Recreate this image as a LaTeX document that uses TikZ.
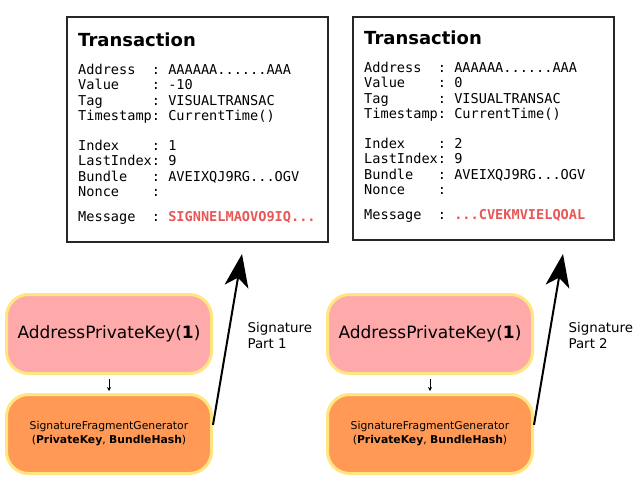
\documentclass[tikz,border=0pt]{standalone}
\usepackage{fontspec}
\setmainfont{DejaVu Sans}
\setmonofont{DejaVu Sans Mono}
\usetikzlibrary{arrows.meta,positioning}
\definecolor{keypink}{HTML}{FFAAAA}
\definecolor{genorange}{HTML}{FF9955}
\definecolor{rimyellow}{HTML}{FFE680}
\definecolor{msgred}{HTML}{E95656}

\tikzset{
  txline/.style={anchor=base west, inner sep=0pt, font=\ttfamily\fontsize{13.6}{15.5}\selectfont},
  txtitle/.style={anchor=base west, inner sep=0pt, font=\bfseries\fontsize{18}{20}\selectfont},
  keybox/.style={draw=rimyellow, line width=3pt, fill=keypink, rounded corners=22pt,
    minimum width=205pt, minimum height=79pt, font=\fontsize{17}{19}\selectfont},
  genbox/.style={keybox, fill=genorange, align=center, font=\fontsize{10.8}{14}\selectfont},
  sigarrow/.style={-{Stealth[length=33pt,width=24pt,inset=9pt]}, line width=2pt},
  steparrow/.style={-{Stealth[length=4pt,width=4pt]}, line width=0.6pt},
}

\begin{document}
\begin{tikzpicture}[x=1pt, y=-1pt]
\useasboundingbox (0,0) rectangle (643,477);
%\draw [help lines, step=10pt](0,0) grid (643,477);

% transaction 1
\draw [line width=1.6pt, black!85] (67,17) rectangle (328,242);
\node [txtitle] (titleL) at (78,46.5) {Transaction};
\foreach \t/\y [count=\n] in {
  {Address~~:~AAAAAA......AAA}/74,
  {Value~~~~:~-10}/89.5,
  {Tag~~~~~~:~VISUALTRANSAC}/105,
  {Timestamp:~CurrentTime()}/120.5,
  {Index~~~~:~1}/150,
  {LastIndex:~9}/165.5,
  {Bundle~~~:~AVEIXQJ9RG...OGV}/181,
  {Nonce~~~~:}/196.5,
  {Message~~:~\textcolor{msgred}{\bfseries SIGNNELMAOVO9IQ...}}/221.5}
  \node [txline] (fieldL\n) at (78,\y) {\t};

% transaction 2
\draw [line width=1.6pt, black!85] (353,17) rectangle (614,240);
\node [txtitle] (titleR) at (364,44.5) {Transaction};
\foreach \t/\y [count=\n] in {
  {Address~~:~AAAAAA......AAA}/72,
  {Value~~~~:~0}/87.5,
  {Tag~~~~~~:~VISUALTRANSAC}/103,
  {Timestamp:~CurrentTime()}/118.5,
  {Index~~~~:~2}/148,
  {LastIndex:~9}/163.5,
  {Bundle~~~:~AVEIXQJ9RG...OGV}/179,
  {Nonce~~~~:}/194.5,
  {Message~~:~\textcolor{msgred}{\bfseries ...CVEKMVIELQOAL}}/219.5}
  \node [txline] (fieldR\n) at (364,\y) {\t};

% key and generator boxes
\node [keybox] (keyL) at (109,334) {AddressPrivateKey(\textbf{1})};
\node [genbox] (genL) at (109,434) {SignatureFragmentGenerator\\(\textbf{PrivateKey}, \textbf{BundleHash})};
\node [keybox] (keyR) at (430,334) {AddressPrivateKey(\textbf{1})};
\node [genbox] (genR) at (430,434) {SignatureFragmentGenerator\\(\textbf{PrivateKey}, \textbf{BundleHash})};

\draw [steparrow, shorten <=4pt, shorten >=2pt] (keyL) -- (genL);
\draw [steparrow, shorten <=4pt, shorten >=2pt] (keyR) -- (genR);

% signature parts
\coordinate (tipL) at (242,254);
\coordinate (tipR) at (563,254);
\draw [sigarrow] (genL.5) -- (tipL);
\draw [sigarrow] (genR.5) -- (tipR);
\node [anchor=west, align=left, font=\fontsize{13.4}{16}\selectfont] (partL) at (244,335) {Signature\\Part 1};
\node [anchor=west, align=left, font=\fontsize{13.4}{16}\selectfont] (partR) at (565,335) {Signature\\Part 2};
\end{tikzpicture}
\end{document}
